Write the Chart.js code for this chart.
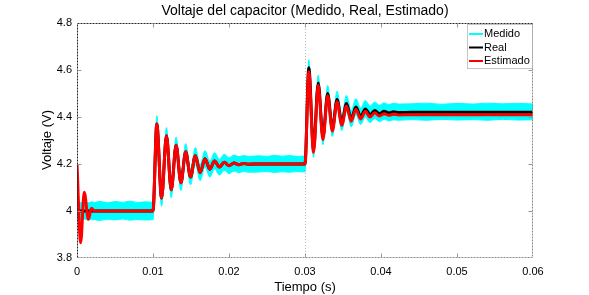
<!DOCTYPE html>
<html>
<head>
<meta charset="utf-8">
<script src="https://cdn.jsdelivr.net/npm/chart.js@4.4.1/dist/chart.umd.min.js"></script>
<style>
    html, body {margin: 0; padding: 0; background: #fff;}
    canvas {display: block;}
</style>
</head>
<body>
<canvas id="voltajeChart" width="589" height="295"></canvas>
<script>
// tiempo (s), compartido por todas las series
const tiempo = [
    0, 0.00048, 0.00095, 0.0015, 0.0019, 0.0023, 0.003, 0.004, 0.005, 0.006, 0.007, 0.008, 0.009, 0.01,
    0.0105, 0.01113, 0.01177, 0.0124, 0.01304, 0.01367, 0.0143, 0.01494, 0.01557, 0.0162, 0.01684, 0.01748, 0.0181, 0.01875,
    0.01938, 0.02, 0.02065, 0.0213, 0.0219, 0.0226, 0.024, 0.025, 0.026, 0.027, 0.028, 0.029, 0.03,
    0.0305, 0.03112, 0.03174, 0.03236, 0.03298, 0.0336, 0.03422, 0.03484, 0.03546, 0.03608, 0.0367, 0.03732, 0.03794, 0.03856,
    0.03918, 0.0398, 0.04042, 0.04104, 0.04166, 0.0423, 0.044, 0.046, 0.048, 0.05, 0.052, 0.054, 0.056, 0.058, 0.06
]

const real = [
    4, 4, 4, 4, 4, 4, 4, 4, 4, 4, 4, 4, 4, 4,
    4.37, 4.055, 4.32, 4.09, 4.28, 4.12, 4.252, 4.145, 4.235, 4.163, 4.222, 4.178, 4.213, 4.187,
    4.207, 4.193, 4.204, 4.197, 4.202, 4.199, 4.2, 4.2, 4.2, 4.2, 4.2, 4.2, 4.2,
    4.61, 4.262, 4.545, 4.315, 4.5, 4.35, 4.475, 4.375, 4.457, 4.392, 4.443, 4.402, 4.434, 4.41,
    4.428, 4.414, 4.424, 4.417, 4.422, 4.419, 4.42, 4.42, 4.42, 4.42, 4.42, 4.42, 4.42, 4.42, 4.42
]

const estimado = [
    4.2, 3.865, 4.08, 3.965, 4.012, 4, 4, 4, 4, 4, 4, 4, 4, 4,
    4.37, 4.055, 4.32, 4.09, 4.28, 4.12, 4.252, 4.145, 4.235, 4.163, 4.222, 4.178, 4.213, 4.187,
    4.207, 4.193, 4.204, 4.197, 4.202, 4.199, 4.2, 4.2, 4.2, 4.2, 4.2, 4.2, 4.2,
    4.593, 4.25, 4.535, 4.304, 4.49, 4.34, 4.465, 4.365, 4.447, 4.382, 4.433, 4.392, 4.424, 4.4,
    4.418, 4.404, 4.414, 4.407, 4.412, 4.409, 4.41, 4.41, 4.41, 4.41, 4.41, 4.41, 4.41, 4.41, 4.41
]

// banda del ruido de la medicion (borde superior e inferior)
const medidoSup = [
    4.038, 4.036, 4.04, 4.035, 4.039, 4.036, 4.041, 4.035, 4.04, 4.037, 4.042, 4.036, 4.039, 4.037,
    4.405, 4.088, 4.355, 4.124, 4.315, 4.153, 4.287, 4.178, 4.27, 4.196, 4.257, 4.211, 4.248, 4.22,
    4.242, 4.226, 4.238, 4.231, 4.236, 4.232, 4.235, 4.232, 4.237, 4.233, 4.236, 4.232, 4.236,
    4.643, 4.295, 4.578, 4.35, 4.534, 4.385, 4.51, 4.41, 4.492, 4.428, 4.478, 4.438, 4.47, 4.446,
    4.464, 4.45, 4.46, 4.453, 4.458, 4.455, 4.456, 4.459, 4.454, 4.458, 4.455, 4.459, 4.456, 4.458, 4.455
]

const medidoInf = [
    3.964, 3.962, 3.966, 3.961, 3.965, 3.963, 3.96, 3.965, 3.962, 3.966, 3.961, 3.964, 3.962, 3.963,
    4.336, 4.02, 4.286, 4.056, 4.246, 4.086, 4.218, 4.111, 4.201, 4.129, 4.188, 4.144, 4.179, 4.153,
    4.173, 4.159, 4.17, 4.163, 4.168, 4.165, 4.166, 4.168, 4.164, 4.167, 4.165, 4.168, 4.166,
    4.577, 4.228, 4.512, 4.282, 4.467, 4.317, 4.442, 4.342, 4.424, 4.358, 4.41, 4.368, 4.4, 4.376,
    4.394, 4.38, 4.39, 4.383, 4.388, 4.386, 4.389, 4.386, 4.39, 4.387, 4.389, 4.386, 4.39, 4.387, 4.388
]

const tiempoTicks = [0, 0.01, 0.02, 0.03, 0.04, 0.05, 0.06]
const tiempoLabels = ['0', '0.01', '0.02', '0.03', '0.04', '0.05', '0.06']
const voltajeTicks = [3.8, 4, 4.2, 4.4, 4.6, 4.8]
const voltajeLabels = ['3.8', '4', '4.2', '4.4', '4.6', '4.8']

const fuente = "'Liberation Sans', Arial, sans-serif"
const serie = (ys) => tiempo.map((t, i) => ({x: t, y: ys[i]}))

const leyenda = [
    {label: 'Medido', color: '#00ffff'},
    {label: 'Real', color: '#000000'},
    {label: 'Estimado', color: '#ff0000'},
]

// marco estilo matlab: caja, ticks hacia dentro, titulos y leyenda
const marco = {
    id: 'marco',
    beforeDatasetsDraw(chart) {
        const {ctx, chartArea: a, scales: {x}} = chart
        const px = Math.round(x.getPixelForValue(0.03)) + 0.5
        ctx.save()
        ctx.strokeStyle = '#b8b8b8'
        ctx.lineWidth = 1
        ctx.setLineDash([1, 2])
        ctx.beginPath()
        ctx.moveTo(px, a.top)
        ctx.lineTo(px, a.bottom)
        ctx.stroke()
        ctx.restore()
    },
    afterDraw(chart) {
        const {ctx, chartArea: a, scales: {x, y}} = chart
        const l = a.left + 0.5, r = a.right - 0.5, t = a.top + 0.5, b = a.bottom - 0.5
        ctx.save()
        ctx.lineWidth = 1
        ctx.setLineDash([2, 1])
        ctx.strokeStyle = '#222'
        ctx.beginPath()
        ctx.moveTo(l, b); ctx.lineTo(l, t); ctx.lineTo(r, t)
        ctx.stroke()
        ctx.strokeStyle = '#8a8a8a'
        ctx.beginPath()
        ctx.moveTo(l, b); ctx.lineTo(r, b); ctx.lineTo(r, t)
        ctx.stroke()

        ctx.setLineDash([])
        ctx.strokeStyle = '#9a9a9a'
        ctx.beginPath()
        for (const v of tiempoTicks.slice(1, -1)) {
            const px = Math.round(x.getPixelForValue(v)) + 0.5
            ctx.moveTo(px, b); ctx.lineTo(px, b - 4)
            ctx.moveTo(px, t); ctx.lineTo(px, t + 4)
        }
        for (const v of voltajeTicks.slice(1, -1)) {
            const py = Math.round(y.getPixelForValue(v)) + 0.5
            ctx.moveTo(l, py); ctx.lineTo(l + 4, py)
            ctx.moveTo(r, py); ctx.lineTo(r - 4, py)
        }
        ctx.stroke()

        ctx.fillStyle = '#000'
        ctx.textAlign = 'center'
        ctx.textBaseline = 'middle'
        ctx.font = `14px ${fuente}`
        ctx.fillText('Voltaje del capacitor (Medido, Real, Estimado)', (a.left + a.right) / 2, 11)
        ctx.font = `13px ${fuente}`
        ctx.fillText('Tiempo (s)', (a.left + a.right) / 2, 287)
        ctx.save()
        ctx.translate(47, 140)
        ctx.rotate(-Math.PI / 2)
        ctx.fillText('Voltaje (V)', 0, 0)
        ctx.restore()

        // leyenda
        const lx = 467.5, ly = 24.5, lw = 65, lh = 44
        ctx.fillStyle = '#fff'
        ctx.fillRect(lx, ly, lw, lh)
        ctx.strokeStyle = '#8a8a8a'
        ctx.setLineDash([1, 1])
        ctx.strokeRect(lx, ly, lw, lh)
        ctx.setLineDash([])
        ctx.font = `11px ${fuente}`
        ctx.textAlign = 'left'
        leyenda.forEach((item, i) => {
            const yy = 34 + i * 13.5
            ctx.strokeStyle = item.color
            ctx.lineWidth = 2
            ctx.beginPath()
            ctx.moveTo(469, yy); ctx.lineTo(483, yy)
            ctx.stroke()
            ctx.fillStyle = '#000'
            ctx.fillText(item.label, 484, yy)
        })
        ctx.restore()
    }
}

const voltajeChart = document.getElementById('voltajeChart')
new Chart(voltajeChart, {
    type: 'line',
    data: {
        datasets: [
            {
                label: 'Estimado',
                data: serie(estimado),
                borderColor: '#ff0000',
                borderWidth: 3,
                order: 0,
            },
            {
                label: 'Real',
                data: serie(real),
                borderColor: '#000000',
                borderWidth: 3,
                order: 1,
            },
            {
                label: 'Medido',
                data: serie(medidoSup),
                borderColor: '#00ffff',
                backgroundColor: '#00ffff',
                borderWidth: 1,
                fill: '+1',
                order: 2,
            },
            {
                label: 'Medido inf',
                data: serie(medidoInf),
                borderColor: '#00ffff',
                borderWidth: 1,
                fill: false,
                order: 3,
            },
        ]
    },
    options: {
        responsive: false,
        animation: false,
        devicePixelRatio: 1,
        layout: {padding: {top: 23, right: 56, left: 0, bottom: 0}},
        elements: {
            point: {radius: 0},
            line: {cubicInterpolationMode: 'monotone'}
        },
        plugins: {
            legend: {display: false},
            title: {display: false},
            tooltip: {enabled: false}
        },
        scales: {
            x: {
                type: 'linear',
                min: 0,
                max: 0.06,
                afterFit: (scale) => { scale.height = 37 },
                afterBuildTicks: (scale) => { scale.ticks = tiempoTicks.map(v => ({value: v})) },
                grid: {display: false, drawTicks: false, tickLength: 0},
                border: {display: false},
                ticks: {
                    padding: 7,
                    color: '#000',
                    font: {family: fuente, size: 11},
                    maxRotation: 0,
                    autoSkip: false,
                    callback: (v, i) => tiempoLabels[i]
                }
            },
            y: {
                min: 3.8,
                max: 4.8,
                afterFit: (scale) => { scale.width = 77 },
                afterBuildTicks: (scale) => { scale.ticks = voltajeTicks.map(v => ({value: v})) },
                grid: {display: false, drawTicks: false, tickLength: 0},
                border: {display: false},
                ticks: {
                    padding: 5,
                    color: '#000',
                    font: {family: fuente, size: 11},
                    autoSkip: false,
                    callback: (v, i) => voltajeLabels[i]
                }
            }
        }
    },
    plugins: [marco]
});
</script>
</body>
</html>
